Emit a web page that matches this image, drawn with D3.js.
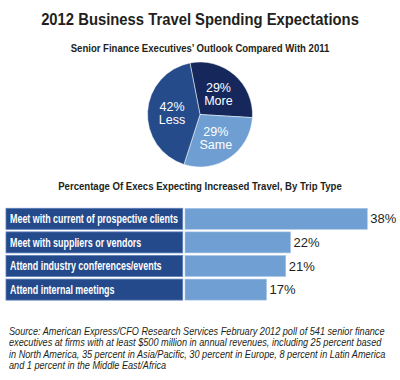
<!DOCTYPE html>
<html>
<head>
<meta charset="utf-8">
<script src="https://cdn.jsdelivr.net/npm/d3@7"></script>
<style>
  html, body { margin: 0; padding: 0; background: #fff; }
  svg { display: block; }
</style>
</head>
<body>
<svg id="chart" width="400" height="380"></svg>
<script>
// ---- data ----
const title = "2012 Business Travel Spending Expectations";
const pieTitle = "Senior Finance Executives\u2019 Outlook Compared With 2011";
const pieCategories = ["More", "Same", "Less"];
const pieValues = [29, 29, 42];
const barTitle = "Percentage Of Execs Expecting Increased Travel, By Trip Type";
const barCategories = [
  "Meet with current of prospective clients",
  "Meet with suppliers or vendors",
  "Attend industry conferences/events",
  "Attend internal meetings"
];
const barValues = [38, 22, 21, 17];
const sourceLines = [
  "Source: American Express/CFO Research Services February 2012 poll of 541 senior finance",
  "executives at firms with at least $500 million in annual revenues, including 25 percent based",
  "in North America, 35 percent in Asia/Pacific, 30 percent in Europe, 8 percent in Latin America",
  "and 1 percent in the Middle East/Africa"
];

// ---- styles ----
const font = "'Liberation Sans', Arial, Helvetica, sans-serif";
const pieColors = d3.scaleOrdinal().domain(pieCategories).range(["#15275b", "#6e9ed2", "#264b8b"]);
const boxColor = "#244a8b";
const barColor = "#6f9fd3";
const ink = "#231f20";

const svg = d3.select("#chart");

// condense a group of texts horizontally (like a condensed face):
// the first text of the group gets the target width; positions given by xy(d,i)
function condense(sel, targetWidth, xy) {
  const nodes = sel.nodes();
  const k = targetWidth / nodes[0].getComputedTextLength();
  sel.attr("x", 0).attr("y", 0)
    .attr("transform", (d, i) => { const p = xy(d, i); return `translate(${p[0]},${p[1]}) scale(${k.toFixed(4)},1)`; });
}

// titles
const t1 = svg.append("text").attr("text-anchor", "middle")
  .attr("font-family", font).attr("font-weight", "bold").attr("font-size", 16.5)
  .attr("fill", ink).text(title);
condense(t1, 318, () => [200, 25]);
const t2 = svg.append("text").attr("text-anchor", "middle")
  .attr("font-family", font).attr("font-weight", "bold").attr("font-size", 11)
  .attr("fill", ink).text(pieTitle);
condense(t2, 259, () => [200, 52]);

// ---- pie ----
const cx = 200, cy = 114.5, r = 52.5;
const startA = -11 * Math.PI / 180;
const pie = d3.pie().sort(null).startAngle(startA).endAngle(startA + 2 * Math.PI);
const arcs = pie(pieValues);
const arc = d3.arc().innerRadius(0).outerRadius(r);
const labelArc = d3.arc().innerRadius(28).outerRadius(28);
const pg = svg.append("g").attr("transform", `translate(${cx},${cy})`);
pg.selectAll("path").data(arcs).join("path")
  .attr("d", arc).attr("fill", (d, i) => pieColors(pieCategories[i]))
  .attr("stroke", "#fff").attr("stroke-width", 0.5);
const lab = pg.selectAll("text.pl").data(arcs).join("text").attr("class", "pl")
  .attr("font-family", font).attr("font-size", 12.5).attr("fill", "#fff")
  .attr("text-anchor", "middle")
  .attr("transform", d => { const c = labelArc.centroid(d); return `translate(${c[0]},${c[1]})`; });
lab.append("tspan").attr("x", 0).attr("y", -1.5).text(d => d.data + "%");
lab.append("tspan").attr("x", 0).attr("y", 11.5).text((d, i) => pieCategories[i]);

// ---- bars ----
const t3 = svg.append("text").attr("text-anchor", "middle")
  .attr("font-family", font).attr("font-weight", "bold").attr("font-size", 11.6)
  .attr("fill", ink).text(barTitle);
condense(t3, 284, () => [200, 190.3]);

const y = d3.scaleBand().domain(barCategories).range([208.3, 300.1]).paddingInner(0.11);
const x = d3.scaleLinear().domain([0, 38]).range([185, 367.3]);

const rows = svg.append("g").selectAll("g").data(barCategories).join("g");
rows.append("rect").attr("x", 6).attr("y", d => y(d))
  .attr("width", 176.7).attr("height", y.bandwidth())
  .attr("fill", boxColor).attr("stroke", "#5a7cb8").attr("stroke-width", 0.8);
const rowLabels = rows.append("text")
  .attr("font-family", font).attr("font-weight", "bold").attr("font-size", 12.6)
  .attr("fill", "#fff").text(d => d);
condense(rowLabels, 168, d => [10, y(d) + y.bandwidth() / 2 + 4.4]);
rows.append("rect").attr("x", x(0)).attr("y", d => y(d))
  .attr("width", (d, i) => x(barValues[i]) - x(0)).attr("height", y.bandwidth())
  .attr("fill", barColor).attr("stroke", "#a9c5e6").attr("stroke-width", 0.6);
rows.append("text").attr("x", (d, i) => x(barValues[i]) + 3)
  .attr("y", d => y(d) + y.bandwidth() / 2 + 4.6)
  .attr("font-family", font).attr("font-size", 13).attr("fill", ink)
  .text((d, i) => barValues[i] + "%");

// ---- source ----
const src = svg.append("g").selectAll("text").data(sourceLines).join("text")
  .attr("font-family", font).attr("font-style", "italic").attr("font-size", 10.8)
  .attr("fill", ink).text(d => d);
condense(src, 376, (d, i) => [9, 334.7 + i * 11.5]);
</script>
</body>
</html>
